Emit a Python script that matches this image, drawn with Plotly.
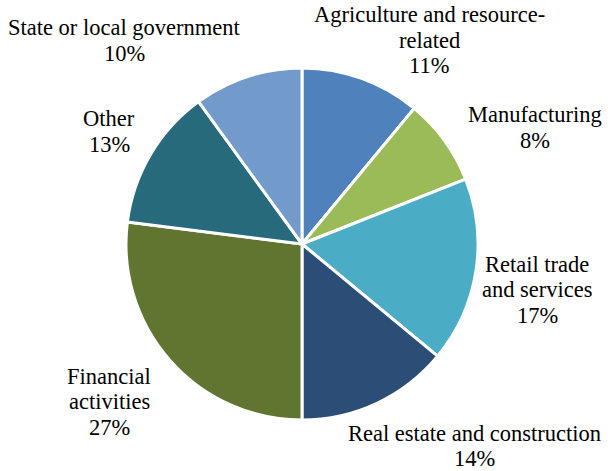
import plotly.graph_objects as go

categories = ["Agriculture and resource-related", "Manufacturing", "Retail trade and services",
              "Real estate and construction", "Financial activities", "Other",
              "State or local government"]
label_lines = [["Agriculture and resource-", "related"], ["Manufacturing"], ["Retail trade", "and services"],
               ["Real estate and construction"], ["Financial", "activities"], ["Other"],
               ["State or local government"]]
values = [11, 8, 17, 14, 27, 13, 10]
colors = ["#4F81BD", "#9BBB59", "#4BACC6", "#2C4D75", "#5F7530", "#276A7C", "#729ACA"]

W, H = 608, 471
FONT = "Liberation Serif, Times New Roman, serif"
LINE = 25.5
# label centre x, baseline of first line (pixels)
label_pos = [(429, 22), (535, 122), (537, 271), (474, 440), (109, 383), (109, 126), (125, 35)]

fig = go.Figure(go.Pie(
    labels=categories, values=values, sort=False, direction="clockwise", rotation=0,
    marker=dict(colors=colors, line=dict(color="white", width=3)),
    textinfo="none", hoverinfo="label+percent", showlegend=False,
    domain=dict(x=[126 / W, 478 / W], y=[1 - 420 / H, 1 - 68 / H]),
))

annotations = []
for lines, v, (px, py) in zip(label_lines, values, label_pos):
    all_lines = lines + [f"{v}%"]
    for i, t in enumerate(all_lines):
        cy = py + i * LINE - 7
        annotations.append(dict(
            x=px / W, y=1 - cy / H, xref="paper", yref="paper",
            text=t, showarrow=False, xanchor="center", yanchor="middle",
            font=dict(family=FONT, size=22.5, color="black"),
        ))

fig.update_layout(
    width=W, height=H, margin=dict(l=0, r=0, t=0, b=0),
    paper_bgcolor="white", plot_bgcolor="white",
    annotations=annotations,
    font=dict(family=FONT),
)
fig.write_html("out.html", config={"displayModeBar": False},
               post_script="document.body.style.margin='0';document.body.style.overflow='hidden';")
